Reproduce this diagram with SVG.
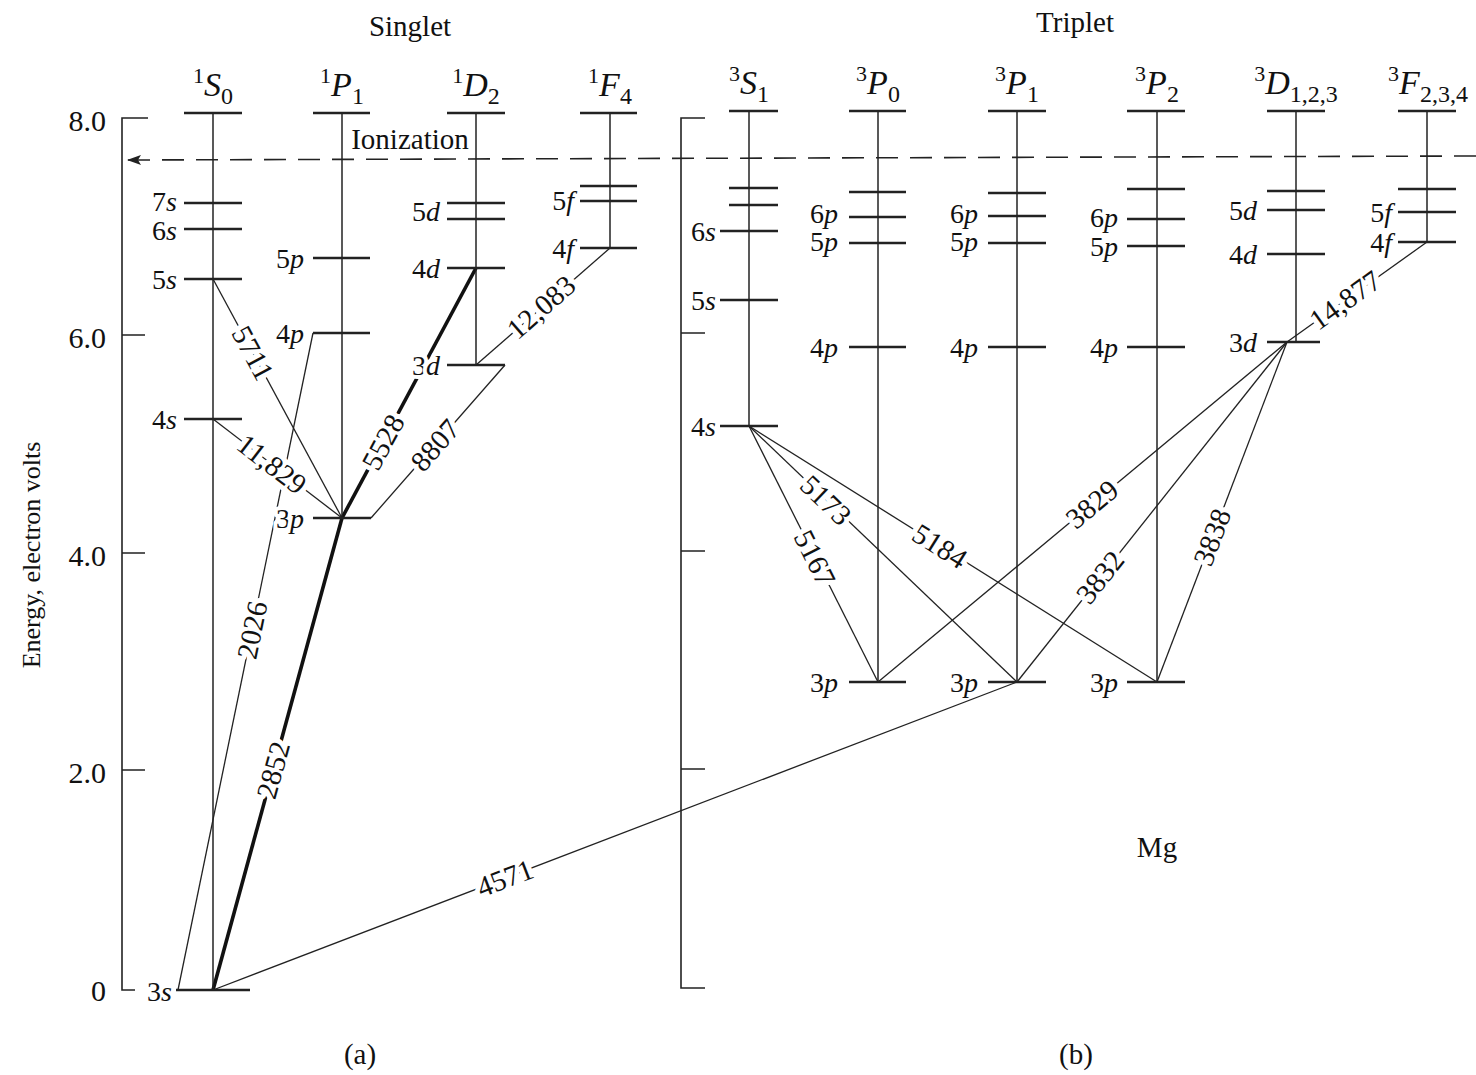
<svg xmlns="http://www.w3.org/2000/svg" width="1476" height="1075" viewBox="0 0 1476 1075">
<style>
text{font-family:"Liberation Serif","Times New Roman",serif;fill:#111}
.ax{stroke:#222;stroke-width:1.6;fill:none}
.vl{stroke:#222;stroke-width:1.5;fill:none}
.lv{stroke:#222;stroke-width:2.4;fill:none}
.tr{stroke:#222;stroke-width:1.3;fill:none}
.thick{stroke:#111;stroke-width:3.6;fill:none}
.lab{font-size:28px;text-anchor:end}
.halo{stroke:#fff;stroke-width:8;paint-order:stroke;stroke-linejoin:round}
.hdr{font-size:34px;text-anchor:middle}
.tick{font-size:30px;text-anchor:end}
.wl{font-size:29px;text-anchor:middle;dominant-baseline:central;stroke:#fff;stroke-width:10;paint-order:stroke;stroke-linejoin:round}
.it{font-style:italic}
</style>
<defs>
<marker id="arr" viewBox="0 0 14 10" refX="14" refY="5" markerWidth="14" markerHeight="10" markerUnits="userSpaceOnUse" orient="auto">
<path d="M0,0 L14,5 L0,10 L3,5 Z" fill="#222"/>
</marker>
</defs>
<rect width="1476" height="1075" fill="#fff"/>

<g id="titles">
<text x="410" y="36" font-size="29" text-anchor="middle">Singlet</text>
<text x="1075" y="32" font-size="29" text-anchor="middle">Triplet</text>
<text x="360" y="1064" font-size="29" text-anchor="middle">(a)</text>
<text x="1076" y="1064" font-size="29" text-anchor="middle">(b)</text>
<text x="1157" y="857" font-size="29" text-anchor="middle">Mg</text>
</g>

<g id="axis-singlet">
<path class="ax" d="M148,118 H122 V990 H135 M122,335 H145 M122,553 H145 M122,770 H145"/>
<text class="tick" x="106" y="131">8.0</text>
<text class="tick" x="106" y="348">6.0</text>
<text class="tick" x="106" y="566">4.0</text>
<text class="tick" x="106" y="783">2.0</text>
<text class="tick" x="106" y="1001">0</text>
<text transform="translate(40,555) rotate(-90)" font-size="26" text-anchor="middle">Energy, electron volts</text>
</g>

<g id="axis-triplet">
<path class="ax" d="M705,118 H681 V988 H705 M681,333 H705 M681,551 H705 M681,769 H705"/>
</g>

<g id="ionization">
<line x1="1476" y1="156" x2="127" y2="160" stroke="#222" stroke-width="1.6" stroke-dasharray="22,12" marker-end="url(#arr)"/>
</g>

<g id="connectors">
<line class="tr" x1="213" y1="279" x2="342" y2="518"/>
<line class="tr" x1="213" y1="419" x2="342" y2="518"/>
<line class="tr" x1="178" y1="990" x2="313" y2="333"/>
<line class="thick" x1="213" y1="990" x2="342" y2="518"/>
<line class="thick" x1="342" y1="518" x2="476" y2="268"/>
<line class="tr" x1="371" y1="518" x2="505" y2="365"/>
<line class="tr" x1="476" y1="365" x2="610" y2="248"/>
<line class="tr" x1="213" y1="990" x2="1017" y2="682"/>
<line class="tr" x1="749" y1="426" x2="878" y2="682"/>
<line class="tr" x1="749" y1="426" x2="1017" y2="682"/>
<line class="tr" x1="749" y1="426" x2="1157" y2="682"/>
<line class="tr" x1="1287" y1="342" x2="878" y2="682"/>
<line class="tr" x1="1287" y1="342" x2="1017" y2="682"/>
<line class="tr" x1="1287" y1="342" x2="1157" y2="682"/>
<line class="tr" x1="1287" y1="342" x2="1427" y2="242"/>
</g>

<g id="col-1S0">
<path class="vl" d="M213,113 V990"/>
<path class="lv" d="M184,113 H242 M184,203 H242 M184,229 H242 M184,279 H242 M184,419 H242 M176,990 H250"/>
<text class="hdr" x="213" y="96"><tspan font-size="22" dy="-13">1</tspan><tspan class="it" dy="13">S</tspan><tspan font-size="24" dy="8">0</tspan></text>
<text class="lab" x="177" y="211">7<tspan class="it">s</tspan></text>
<text class="lab" x="177" y="240">6<tspan class="it">s</tspan></text>
<text class="lab" x="177" y="289">5<tspan class="it">s</tspan></text>
<text class="lab" x="177" y="429">4<tspan class="it">s</tspan></text>
<text class="lab" x="172" y="1001">3<tspan class="it">s</tspan></text>
</g>

<g id="col-1P1">
<path class="vl" d="M342,113 V518"/>
<path class="lv" d="M313,113 H370 M313,258 H370 M313,333 H370"/>
<text class="hdr" x="342" y="96"><tspan font-size="22" dy="-13">1</tspan><tspan class="it" dy="13">P</tspan><tspan font-size="24" dy="8">1</tspan></text>
<text class="lab" x="304" y="268">5<tspan class="it">p</tspan></text>
<text class="lab" x="304" y="343">4<tspan class="it">p</tspan></text>
<text class="lab halo" x="304" y="528">3<tspan class="it">p</tspan></text>
<path class="lv" d="M313,518 H371"/>
</g>

<g id="col-1D2">
<path class="vl" d="M476,113 V365"/>
<path class="lv" d="M447,113 H505 M447,203 H505 M447,219 H505 M447,268 H505"/>
<text class="hdr" x="476" y="96"><tspan font-size="22" dy="-13">1</tspan><tspan class="it" dy="13">D</tspan><tspan font-size="24" dy="8">2</tspan></text>
<text class="lab" x="440" y="221">5<tspan class="it">d</tspan></text>
<text class="lab" x="440" y="278">4<tspan class="it">d</tspan></text>
<text class="lab halo" x="440" y="375">3<tspan class="it">d</tspan></text>
<path class="lv" d="M447,365 H505"/>
</g>

<g id="col-1F4">
<path class="vl" d="M610,113 V248"/>
<path class="lv" d="M580,113 H637 M580,186 H637 M580,201 H637 M580,248 H637"/>
<text class="hdr" x="610" y="96"><tspan font-size="22" dy="-13">1</tspan><tspan class="it" dy="13">F</tspan><tspan font-size="24" dy="8">4</tspan></text>
<text class="lab" x="574" y="210">5<tspan class="it">f</tspan></text>
<text class="lab" x="574" y="258">4<tspan class="it">f</tspan></text>
</g>

<g id="col-3S1">
<path class="vl" d="M749,111 V426"/>
<path class="lv" d="M729,111 H778 M729,188 H778 M729,205 H778 M720,231 H778 M720,300 H778 M720,426 H778"/>
<text class="hdr" x="749" y="94"><tspan font-size="22" dy="-13">3</tspan><tspan class="it" dy="13">S</tspan><tspan font-size="24" dy="8">1</tspan></text>
<text class="lab" x="716" y="241">6<tspan class="it">s</tspan></text>
<text class="lab" x="716" y="310">5<tspan class="it">s</tspan></text>
<text class="lab" x="716" y="436">4<tspan class="it">s</tspan></text>
</g>

<g id="col-3P0">
<path class="vl" d="M878,111 V682"/>
<path class="lv" d="M849,111 H906 M849,192 H906 M849,217 H906 M849,243 H906 M849,347 H906 M849,682 H906"/>
<text class="hdr" x="878" y="94"><tspan font-size="22" dy="-13">3</tspan><tspan class="it" dy="13">P</tspan><tspan font-size="24" dy="8">0</tspan></text>
<text class="lab" x="838" y="223">6<tspan class="it">p</tspan></text>
<text class="lab" x="838" y="251">5<tspan class="it">p</tspan></text>
<text class="lab" x="838" y="357">4<tspan class="it">p</tspan></text>
<text class="lab" x="838" y="692">3<tspan class="it">p</tspan></text>
</g>

<g id="col-3P1">
<path class="vl" d="M1017,111 V682"/>
<path class="lv" d="M988,111 H1046 M988,193 H1046 M988,216 H1046 M988,243 H1046 M988,347 H1046 M988,682 H1046"/>
<text class="hdr" x="1017" y="94"><tspan font-size="22" dy="-13">3</tspan><tspan class="it" dy="13">P</tspan><tspan font-size="24" dy="8">1</tspan></text>
<text class="lab" x="978" y="223">6<tspan class="it">p</tspan></text>
<text class="lab" x="978" y="251">5<tspan class="it">p</tspan></text>
<text class="lab" x="978" y="357">4<tspan class="it">p</tspan></text>
<text class="lab" x="978" y="692">3<tspan class="it">p</tspan></text>
</g>

<g id="col-3P2">
<path class="vl" d="M1157,111 V682"/>
<path class="lv" d="M1127,111 H1185 M1127,189 H1185 M1127,219 H1185 M1127,246 H1185 M1127,347 H1185 M1127,682 H1185"/>
<text class="hdr" x="1157" y="94"><tspan font-size="22" dy="-13">3</tspan><tspan class="it" dy="13">P</tspan><tspan font-size="24" dy="8">2</tspan></text>
<text class="lab" x="1118" y="227">6<tspan class="it">p</tspan></text>
<text class="lab" x="1118" y="256">5<tspan class="it">p</tspan></text>
<text class="lab" x="1118" y="357">4<tspan class="it">p</tspan></text>
<text class="lab" x="1118" y="692">3<tspan class="it">p</tspan></text>
</g>

<g id="col-3D">
<path class="vl" d="M1296,111 V342"/>
<path class="lv" d="M1267,111 H1325 M1267,191 H1325 M1267,210 H1325 M1267,254 H1325 M1267,342 H1320"/>
<text class="hdr" x="1296" y="94"><tspan font-size="22" dy="-13">3</tspan><tspan class="it" dy="13">D</tspan><tspan font-size="24" dy="8">1,2,3</tspan></text>
<text class="lab" x="1257" y="220">5<tspan class="it">d</tspan></text>
<text class="lab" x="1257" y="264">4<tspan class="it">d</tspan></text>
<text class="lab" x="1257" y="352">3<tspan class="it">d</tspan></text>
</g>

<g id="col-3F">
<path class="vl" d="M1427,111 V242"/>
<path class="lv" d="M1398,111 H1456 M1398,189 H1456 M1398,212 H1456 M1398,242 H1456"/>
<text class="hdr" x="1428" y="94"><tspan font-size="22" dy="-13">3</tspan><tspan class="it" dy="13">F</tspan><tspan font-size="24" dy="8">2,3,4</tspan></text>
<text class="lab" x="1392" y="222">5<tspan class="it">f</tspan></text>
<text class="lab" x="1392" y="252">4<tspan class="it">f</tspan></text>
</g>

<g id="connector-labels">
<text class="wl" transform="translate(253,353) rotate(61.6)">5711</text>
<text class="wl" transform="translate(272,464) rotate(37.5)">11,829</text>
<text class="wl" transform="translate(252,630) rotate(-78.4)">2026</text>
<text class="wl" transform="translate(273,770) rotate(-74.7)">2852</text>
<text class="wl" transform="translate(383,442) rotate(-61.8)">5528</text>
<text class="wl" transform="translate(435,445) rotate(-48.8)">8807</text>
<text class="wl" transform="translate(541,307) rotate(-41.1)">12,083</text>
<text class="wl" transform="translate(505,878) rotate(-21)">4571</text>
<text class="wl" transform="translate(815,558) rotate(63.3)">5167</text>
<text class="wl" transform="translate(826,500) rotate(43.7)">5173</text>
<text class="wl" transform="translate(940,546) rotate(32.1)">5184</text>
<text class="wl" transform="translate(1092,504) rotate(-39.7)">3829</text>
<text class="wl" transform="translate(1100,577) rotate(-51.5)">3832</text>
<text class="wl" transform="translate(1212,537) rotate(-69.1)">3838</text>
<text class="wl" transform="translate(1345,300) rotate(-35.5)">14,877</text>
<text x="410" y="149" font-size="29" text-anchor="middle" stroke="#fff" stroke-width="8" paint-order="stroke">Ionization</text>
</g>
</svg>
